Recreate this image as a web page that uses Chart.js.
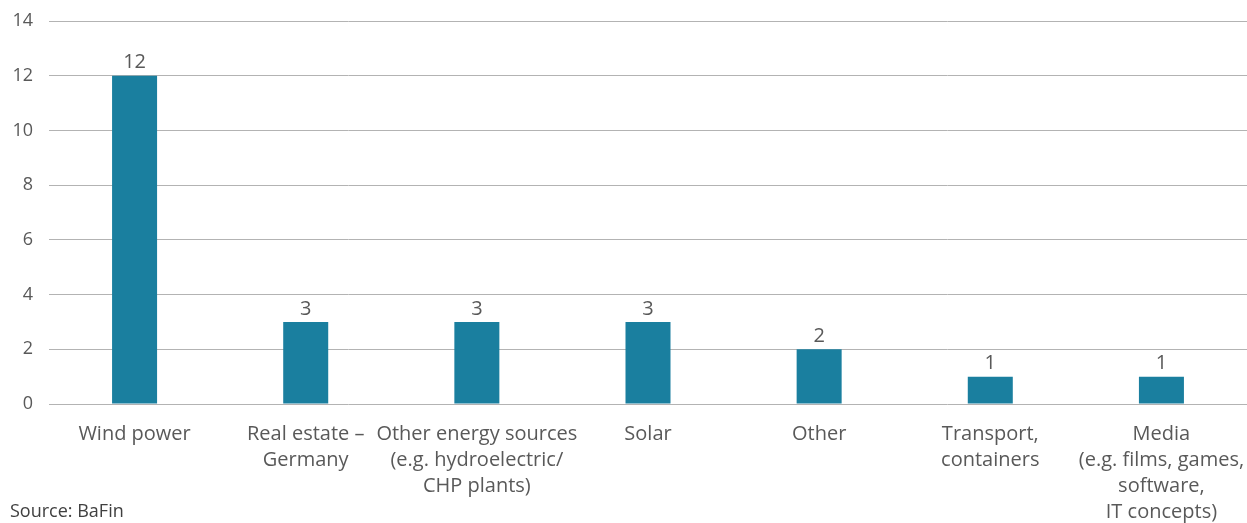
<!DOCTYPE html>
<html>
<head>
<meta charset="utf-8">
<script src="https://cdn.jsdelivr.net/npm/chart.js@4"></script>
<style>
html,body{margin:0;padding:0;background:#fff;}
#wrap{width:1247px;height:523px;position:relative;}
</style>
</head>
<body>
<div id="wrap"><canvas id="c" width="1247" height="523"></canvas></div>
<script>
const categories = [
  ["Wind power"],
  ["Real estate –", "Germany"],
  ["Other energy sources", "(e.g. hydroelectric/", "CHP plants)"],
  ["Solar"],
  ["Other"],
  ["Transport,", "containers"],
  ["Media", "(e.g. films, games,", "software,", "IT concepts)"]
];
const values = [12, 3, 3, 3, 2, 1, 1];
const yTicks = [0, 2, 4, 6, 8, 10, 12, 14];
const sourceText = "Source: BaFin";

const FONT = "'Open Sans', 'Noto Sans', sans-serif";
const TEXT = "#595959";

const valueLabels = {
  id: 'valueLabels',
  afterDatasetsDraw(chart) {
    const ctx = chart.ctx;
    const meta = chart.getDatasetMeta(0);
    ctx.save();
    ctx.font = "20px " + FONT;
    ctx.fillStyle = TEXT;
    ctx.textAlign = 'center';
    ctx.textBaseline = 'bottom';
    meta.data.forEach((bar, i) => {
      ctx.fillText(String(values[i]), bar.x, bar.y - 3);
    });
    ctx.restore();
  }
};
const sourcePlugin = {
  id: 'sourcePlugin',
  afterDraw(chart) {
    const ctx = chart.ctx;
    ctx.save();
    ctx.font = "18px " + FONT;
    ctx.fillStyle = "#404040";
    ctx.textAlign = 'left';
    ctx.textBaseline = 'middle';
    ctx.fillText(sourceText, 10, 512);
    ctx.restore();
  }
};

new Chart(document.getElementById('c'), {
  type: 'bar',
  data: {
    labels: categories,
    datasets: [{
      data: values,
      backgroundColor: '#1a7f9f',
      barPercentage: 0.263,
      categoryPercentage: 1.0
    }]
  },
  options: {
    responsive: false,
    animation: false,
    layout: { padding: { top: 21, right: 0, left: 1, bottom: 0 } },
    plugins: { legend: { display: false }, tooltip: { enabled: false } },
    scales: {
      x: {
        grid: { display: false, drawTicks: false },
        border: { display: false },
        ticks: {
          color: TEXT,
          font: { family: FONT, size: 20, lineHeight: 1.3 },
          padding: 17,
          maxRotation: 0,
          autoSkip: false
        },
        afterFit(scale) { scale.height = 119; scale.paddingLeft = 0; scale.paddingRight = 0; }
      },
      y: {
        min: 0, max: 14,
        afterBuildTicks(scale) { scale.ticks = yTicks.map(v => ({ value: v })); },
        grid: { color: '#b3b3b3', lineWidth: 1, drawTicks: false },
        border: { display: false },
        ticks: {
          color: TEXT,
          font: { family: FONT, size: 18 },
          padding: 16
        },
        afterFit(scale) { scale.width = 48; scale.paddingTop = 0; scale.paddingBottom = 0; }
      }
    }
  },
  plugins: [valueLabels, sourcePlugin]
});
</script>
</body>
</html>
